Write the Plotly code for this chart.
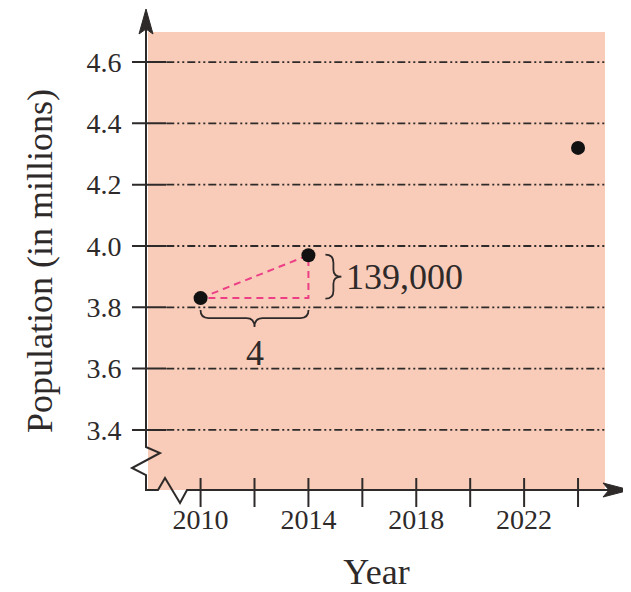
import plotly.graph_objects as go

# data
years = [2010, 2014, 2024]
population = [3.83, 3.97, 4.32]  # millions

x_ticks = [2010, 2012, 2014, 2016, 2018, 2020, 2022, 2024]
x_labels = ["2010", "", "2014", "", "2018", "", "2022", ""]
y_ticks = [3.4, 3.6, 3.8, 4.0, 4.2, 4.4, 4.6]

rise_label = "139,000"
run_label = "4"

INK = "#2e2a2a"
PINK = "#ec3f86"
BG = "#f9ccb9"
FONT = "Liberation Serif"

fig = go.Figure()

# slope triangle between the first two points
tri_x = [years[0], years[1], years[1], years[0]]
tri_y = [population[0], population[1], population[0], population[0]]
fig.add_trace(go.Scatter(x=tri_x, y=tri_y, mode="lines",
                         line=dict(color=PINK, width=2, dash="7px,5px"),
                         hoverinfo="skip"))

fig.add_trace(go.Scatter(x=years, y=population, mode="markers",
                         marker=dict(color="#111111", size=14)))

shapes = []

# axis lines with the break marks (pixels from the bottom-left corner of the plot)
axis_path = ("M -2,462 L -2,43 L 12,37 L -16,22 L -2,15 L -2,0 "
             "L 10,0 L 17,12 L 32,-13 L 39,0 L 462,0")
shapes.append(dict(type="path", xref="paper", yref="paper",
                   xsizemode="pixel", ysizemode="pixel", xanchor=0, yanchor=0,
                   path=axis_path, line=dict(color=INK, width=2)))
# arrow heads
shapes.append(dict(type="path", xref="paper", yref="paper",
                   xsizemode="pixel", ysizemode="pixel", xanchor=0, yanchor=0,
                   path="M 482,0 L 455,7 L 461,0 L 455,-7 Z",
                   fillcolor=INK, line=dict(color=INK, width=1)))
shapes.append(dict(type="path", xref="paper", yref="paper",
                   xsizemode="pixel", ysizemode="pixel", xanchor=0, yanchor=0,
                   path="M -2,481 L -9,456 L -2,461 L 5,456 Z",
                   fillcolor=INK, line=dict(color=INK, width=1)))

# x tick marks crossing the axis
for t in x_ticks:
    shapes.append(dict(type="line", xref="x", yref="paper",
                       ysizemode="pixel", yanchor=0, x0=t, x1=t, y0=-17, y1=12,
                       line=dict(color=INK, width=2)))
# y tick marks crossing the axis, then the dash-dot gridline
for t in y_ticks:
    shapes.append(dict(type="line", xref="paper", yref="y",
                       xsizemode="pixel", xanchor=0, x0=-16, x1=18, y0=t, y1=t,
                       line=dict(color=INK, width=2)))
    shapes.append(dict(type="line", xref="paper", yref="y",
                       x0=0.04, x1=1, y0=t, y1=t,
                       line=dict(color=INK, width=1.8, dash="8px,3px,2px,3px,2px,3px")))

# brace under the run
mid_x = (years[0] + years[1]) / 2
shapes.append(dict(type="path", xref="x", yref="y",
                   xsizemode="pixel", ysizemode="pixel", xanchor=mid_x, yanchor=population[0],
                   path=("M -54,-12 Q -54,-20 -46,-20 L -8,-20 Q 0,-20 0,-29 "
                         "Q 0,-20 8,-20 L 46,-20 Q 54,-20 54,-12"),
                   line=dict(color=INK, width=1.8)))
# brace beside the rise
mid_y = (population[0] + population[1]) / 2
shapes.append(dict(type="path", xref="x", yref="y",
                   xsizemode="pixel", ysizemode="pixel", xanchor=years[1], yanchor=mid_y,
                   path=("M 17,22 Q 25,22 25,14 L 25,7 Q 25,0 33,0 "
                         "Q 25,0 25,-7 L 25,-14 Q 25,-22 17,-22"),
                   line=dict(color=INK, width=1.8)))

annotations = [
    dict(x=years[1], y=mid_y, xref="x", yref="y", text=rise_label, showarrow=False,
         xanchor="left", yanchor="middle", xshift=36,
         font=dict(family=FONT, size=36, color=INK)),
    dict(x=mid_x, y=population[0], xref="x", yref="y", text=run_label, showarrow=False,
         xanchor="center", yanchor="middle", yshift=-55,
         font=dict(family=FONT, size=36, color=INK)),
]

# the page adds an 8px body margin, so the figure is 8px smaller on each side
fig.update_layout(
    width=623, height=584,
    margin=dict(l=140, r=26, t=24, b=102),
    paper_bgcolor="white",
    plot_bgcolor=BG,
    showlegend=False,
    shapes=shapes,
    annotations=annotations,
    font=dict(family=FONT, color=INK),
)
fig.update_xaxes(range=[2008.05, 2025.0], tickvals=x_ticks, ticktext=x_labels,
                 ticks="outside", ticklen=4, tickcolor="rgba(0,0,0,0)",
                 showgrid=False, zeroline=False, showline=False, automargin=False,
                 tickfont=dict(family=FONT, size=28, color=INK),
                 title=dict(text="Year", font=dict(family=FONT, size=36, color=INK), standoff=36))
fig.update_yaxes(range=[3.204, 4.698], tickvals=y_ticks, tickformat=".1f",
                 ticks="outside", ticklen=20, tickcolor="rgba(0,0,0,0)",
                 showgrid=False, zeroline=False, showline=False, automargin=False,
                 tickfont=dict(family=FONT, size=28, color=INK),
                 title=dict(text="Population (in millions)",
                            font=dict(family=FONT, size=36, color=INK), standoff=22))

fig.write_html("out.html")
